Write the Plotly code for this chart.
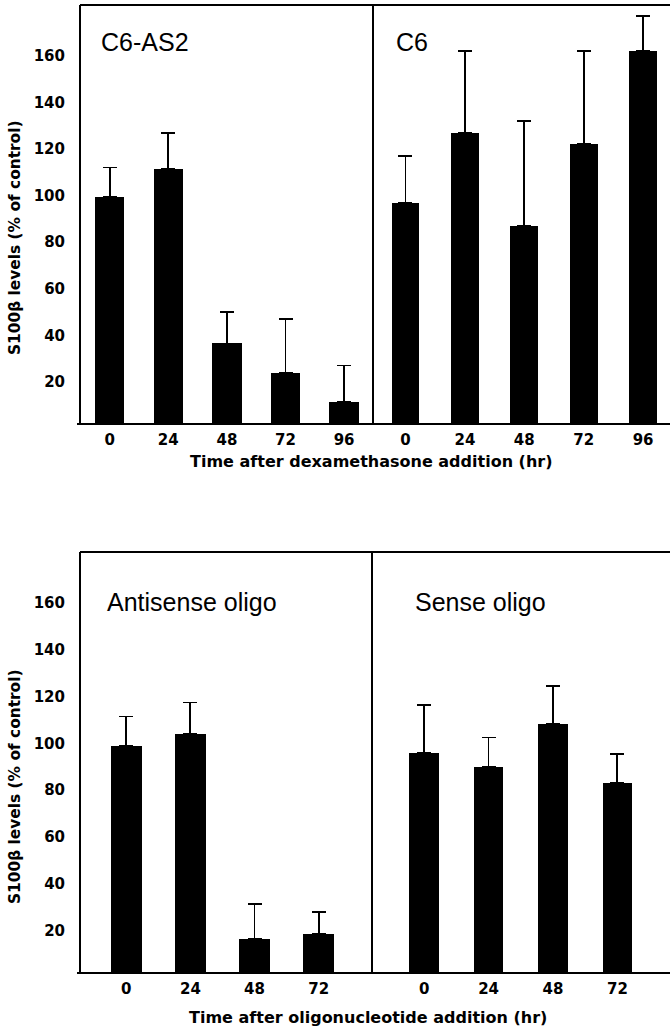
import plotly.graph_objects as go

# ---- data ----
times_dex = ["0", "24", "48", "72", "96"]
times_oligo = ["0", "24", "48", "72"]

c6as2_vals = [99.5, 111.5, 36.5, 24, 11.5]
c6as2_err = [12.5, 15.5, 13.5, 23, 15.5]

c6_vals = [97, 127, 87, 122, 162]
c6_err = [20, 35, 45, 40, 15]

antisense_vals = [99, 104, 16.5, 18.5]
antisense_err = [12.5, 13.5, 15, 9.5]

sense_vals = [96, 90, 108.5, 83]
sense_err = [20.5, 12.5, 16, 12.5]

y_ticks = [20, 40, 60, 80, 100, 120, 140, 160]

W, H = 670, 1027
FONT_B = dict(family="DejaVu Sans", size=15, color="black", weight="bold")
FONT_T = dict(family="Liberation Sans, Arial", size=25, color="black")


def px_x(p):
    return p / W


def px_y(p):
    return 1 - p / H


fig = go.Figure()

panels = [
    ("x", "y", times_dex, c6as2_vals, c6as2_err, (80, 373), (5, 424), [-0.507, 4.493], 0.5, True),
    ("x2", "y2", times_dex, c6_vals, c6_err, (373, 670), (5, 424), [-0.547, 4.453], 0.47, False),
    ("x3", "y3", times_oligo, antisense_vals, antisense_err, (80, 372), (552, 973), [-0.72, 3.83], 0.48, True),
    ("x4", "y4", times_oligo, sense_vals, sense_err, (372, 670), (552, 973), [-0.81, 3.817], 0.46, False),
]

shapes = []
for i, (xa, ya, cats, vals, err, xd, yd, xr, bw, showy) in enumerate(panels):
    fig.add_trace(go.Bar(
        x=cats, y=vals, xaxis=xa, yaxis=ya, width=bw,
        marker=dict(color="black", line=dict(width=0)),
        error_y=dict(type="data", array=err, arrayminus=[0] * len(err), symmetric=False,
                     color="black", thickness=1.8, width=7),
        showlegend=False,
    ))
    sfx = "" if i == 0 else str(i + 1)
    fig.layout["xaxis" + sfx] = dict(
        domain=[px_x(xd[0]), px_x(xd[1])], anchor=ya, type="category", range=xr,
        showline=False, showgrid=False, zeroline=False, ticks="",
        tickfont=FONT_B, ticklabelstandoff=5, fixedrange=True,
    )
    fig.layout["yaxis" + sfx] = dict(
        domain=[px_y(yd[1]), px_y(yd[0])], anchor=xa, range=[1.9, 181.8],
        showline=False, showgrid=False, zeroline=False, ticks="",
        tickvals=y_ticks, showticklabels=showy, tickfont=FONT_B, ticklabelstandoff=14,
        fixedrange=True,
    )

# frame lines (top, bottom, left, divider) for each row of panels
frame_rows = [(5, 424, 80, 373), (552, 973, 80, 372)]
for (yt, yb, xl, xm) in frame_rows:
    segs = [
        (xl, yt, W, yt),
        (xl - 3, yb, W, yb),
        (xl, yt, xl, yb),
        (xm, yt, xm, yb),
    ]
    for (x0, y0, x1, y1) in segs:
        shapes.append(dict(type="line", xref="paper", yref="paper",
                           x0=px_x(x0), y0=px_y(y0), x1=px_x(x1), y1=px_y(y1),
                           line=dict(color="black", width=2)))

annotations = [
    dict(text="C6-AS2", x=px_x(99), y=px_y(42), xanchor="left", yanchor="middle", font=FONT_T),
    dict(text="C6", x=px_x(394), y=px_y(42), xanchor="left", yanchor="middle", font=FONT_T),
    dict(text="Antisense oligo", x=px_x(105), y=px_y(602), xanchor="left", yanchor="middle", font=FONT_T),
    dict(text="Sense oligo", x=px_x(413), y=px_y(602), xanchor="left", yanchor="middle", font=FONT_T),
    dict(text="Time after dexamethasone addition (hr)", x=px_x(371), y=px_y(461),
         xanchor="center", yanchor="middle", font=dict(FONT_B, size=16)),
    dict(text="Time after oligonucleotide addition (hr)", x=px_x(368), y=px_y(1017),
         xanchor="center", yanchor="middle", font=dict(FONT_B, size=16)),
    dict(text="S100β levels (% of control)", x=px_x(15), y=px_y(238), textangle=-90,
         xanchor="center", yanchor="middle", font=dict(FONT_B, size=15.4)),
    dict(text="S100β levels (% of control)", x=px_x(15), y=px_y(787), textangle=-90,
         xanchor="center", yanchor="middle", font=dict(FONT_B, size=15.4)),
]
for a in annotations:
    a.update(xref="paper", yref="paper", showarrow=False)

fig.update_layout(
    width=W, height=H, margin=dict(l=0, r=0, t=0, b=0),
    paper_bgcolor="white", plot_bgcolor="white",
    annotations=annotations, shapes=shapes, bargap=0,
)

fig.write_html(
    "out.html",
    config={"displayModeBar": False, "staticPlot": True},
    post_script="document.body.style.margin='0';document.body.style.overflow='hidden';",
)
